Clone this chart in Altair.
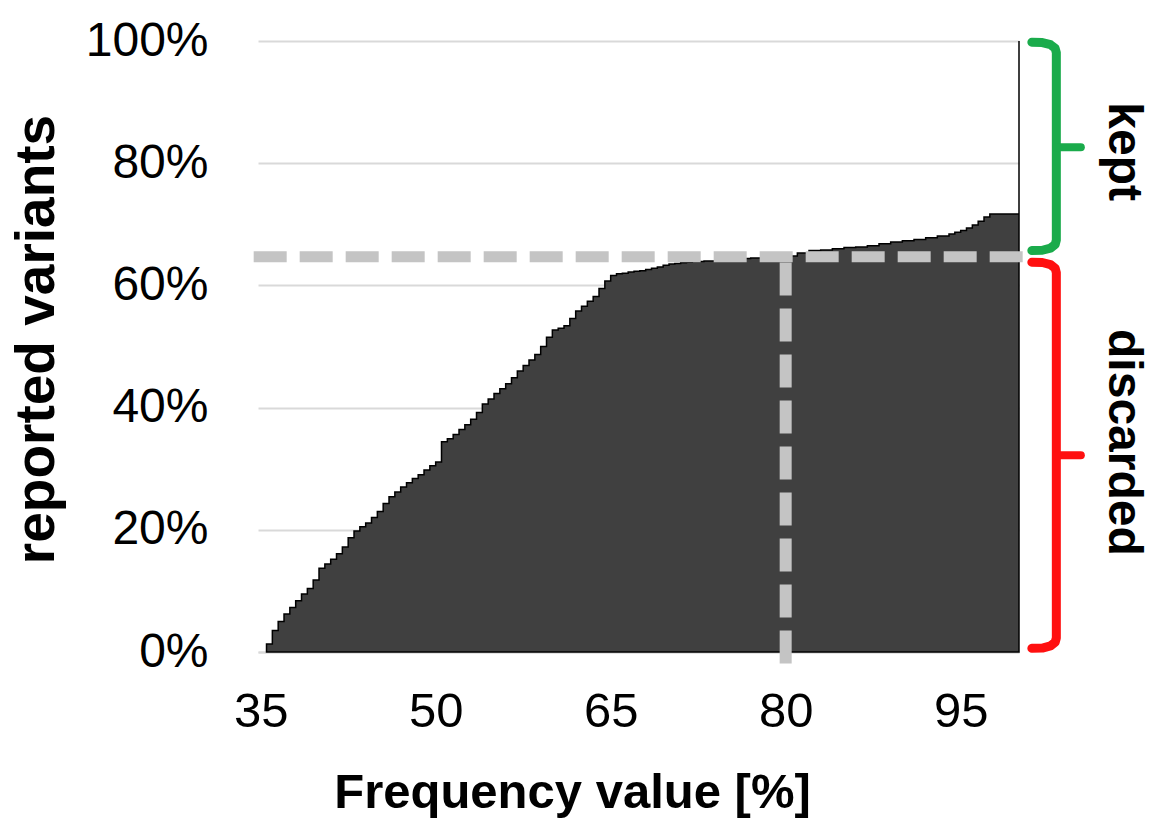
import altair as alt
import pandas as pd

# ---- data ----
freq = [35.5, 36.0, 36.5, 37.0, 37.5, 38.0, 38.5, 39.0, 39.5, 40.0,
        40.5, 41.0, 41.5, 42.0, 42.5, 43.0, 43.5, 44.0, 44.5, 45.0,
        45.5, 46.0, 46.5, 47.0, 47.5, 48.0, 48.5, 49.0, 49.5, 50.0,
        50.5, 51.0, 51.5, 52.0, 52.5, 53.0, 53.5, 54.0, 54.5, 55.0,
        55.5, 56.0, 56.5, 57.0, 57.5, 58.0, 58.5, 59.0, 59.5, 60.0,
        60.5, 61.0, 61.5, 62.0, 62.5, 63.0, 63.5, 64.0, 64.5, 65.0,
        65.5, 66.0, 66.5, 67.0, 67.5, 68.0, 68.5, 69.0, 69.5, 70.0,
        70.5, 71.0, 71.5, 72.0, 73.0, 74.0, 75.0, 76.0, 77.0, 78.0,
        79.0, 80.0, 81.0, 82.0, 83.0, 84.0, 85.0, 86.0, 87.0, 88.0,
        89.0, 90.0, 91.0, 92.0, 93.0, 94.0, 94.5, 95.0, 95.5, 96.0,
        96.5, 97.0, 97.5, 98.0, 100.0]
share = [1.3, 3.5, 5.0, 6.2, 7.3, 8.4, 9.5, 10.4, 11.8, 13.7,
         14.4, 15.2, 16.1, 17.2, 18.7, 19.8, 20.5, 21.1, 22.0, 23.0,
         24.3, 25.4, 26.2, 27.0, 27.7, 28.4, 29.0, 29.8, 30.5, 31.1,
         34.4, 34.9, 35.6, 36.4, 37.2, 38.1, 39.2, 40.6, 41.4, 42.3,
         43.1, 43.9, 44.9, 46.0, 46.9, 47.8, 48.7, 50.0, 51.5, 52.7,
         53.0, 53.4, 54.6, 55.8, 56.6, 57.4, 58.2, 59.5, 60.7, 61.6,
         61.9, 62.0, 62.2, 62.3, 62.4, 62.6, 62.8, 63.0, 63.3, 63.5,
         63.6, 63.7, 63.8, 63.9, 64.0, 64.1, 64.2, 64.4, 64.5, 64.6,
         64.7, 64.8, 65.3, 65.7, 65.8, 66.0, 66.2, 66.3, 66.5, 66.8,
         67.1, 67.3, 67.5, 67.8, 68.1, 68.4, 68.7, 69.0, 69.4, 69.9,
         70.5, 71.2, 71.7, 71.7, 100.0]

x_ticks = [35, 50, 65, 80, 95]
y_ticks = [0, 20, 40, 60, 80, 100]

threshold_freq = 80
threshold_share = 64.7

group_names = ["kept", "discarded"]
group_colors = ["#1aab4b", "#ff1010"]

# bracket outlines (data coordinates, annotation)
kept_bx = [101.1, 102.0, 102.7, 103.1, 103.2, 103.2, 103.1, 102.7, 102.0, 101.1]
kept_by = [99.8, 99.75, 99.4, 98.8, 98.1, 67.4, 66.7, 66.1, 65.75, 65.7]
disc_bx = [101.1, 102.0, 102.7, 103.1, 103.2, 103.2, 103.1, 102.7, 102.0, 101.1]
disc_by = [63.8, 63.75, 63.4, 62.8, 62.1, 2.3, 1.6, 1.0, 0.65, 0.6]
stub_y = [82.6, 32.2]
label_y = [81.9, 34.3]

FONT = "Liberation Sans"

area_df = pd.DataFrame({"freq": freq, "share": share})

x_scale = alt.Scale(domain=[34.77, 100], nice=False, zero=False)
y_scale = alt.Scale(domain=[0, 100], nice=False, zero=True)

x_axis = alt.Axis(
    values=x_ticks, title="Frequency value [%]", grid=False, ticks=False,
    domain=True, domainColor="#d9d9d9", domainWidth=2,
    labelFont=FONT, labelFontSize=49, labelColor="#000000", labelPadding=35,
    titleFont=FONT, titleFontSize=49, titleFontWeight="bold", titleColor="#000000",
    titleX=314, titleY=155, titleAlign="center", titleBaseline="alphabetic",
)
y_axis = alt.Axis(
    values=y_ticks, labelExpr="datum.value + '%'", title="reported variants",
    grid=True, gridColor="#d9d9d9", gridWidth=2, ticks=False, domain=False,
    labelFont=FONT, labelFontSize=48, labelColor="#000000", labelPadding=50,
    titleFont=FONT, titleFontSize=55, titleFontWeight="bold", titleColor="#000000",
    titleX=-222, titleY=298, titleAngle=-90, titleAlign="center", titleBaseline="middle",
)


def X(field):
    return alt.X(field, scale=x_scale, axis=x_axis)


def Y(field):
    return alt.Y(field, scale=y_scale, axis=y_axis)


area = alt.Chart(area_df).mark_area(
    interpolate="step-after", color="#404040", stroke="#000000", strokeWidth=1.5
).encode(x=X("freq:Q"), y=Y("share:Q"))

h_df = pd.DataFrame({"freq": [34.4], "x2": [100.6], "share": [threshold_share]})
h_rule = alt.Chart(h_df).mark_rule(
    color="#c4c4c4", strokeWidth=11, strokeDash=[33, 13]
).encode(x=X("freq:Q"), x2="x2:Q", y=Y("share:Q"))

v_df = pd.DataFrame({"freq": [threshold_freq], "share": [-1.9], "y2": [threshold_share]})
v_rule = alt.Chart(v_df).mark_rule(
    color="#c4c4c4", strokeWidth=12, strokeDash=[33, 13]
).encode(x=X("freq:Q"), y=Y("share:Q"), y2="y2:Q")

br_rows = []
for i, (bx, by) in enumerate(zip(kept_bx, kept_by)):
    br_rows.append({"freq": bx, "share": by, "i": i, "g": "kept"})
for i, (bx, by) in enumerate(zip(disc_bx, disc_by)):
    br_rows.append({"freq": bx, "share": by, "i": i, "g": "discarded"})
br_df = pd.DataFrame(br_rows)

color_scale = alt.Scale(domain=group_names, range=group_colors)

brackets = alt.Chart(br_df).mark_line(
    strokeWidth=9, strokeCap="round", strokeJoin="round"
).encode(
    x=X("freq:Q"), y=Y("share:Q"), order="i:Q",
    color=alt.Color("g:N", scale=color_scale, legend=None),
)

stub_df = pd.DataFrame({"g": group_names, "freq": [103.2, 103.2], "x2": [105.3, 105.3], "share": stub_y})
stubs = alt.Chart(stub_df).mark_rule(strokeWidth=8, strokeCap="round").encode(
    x=X("freq:Q"), x2="x2:Q", y=Y("share:Q"),
    color=alt.Color("g:N", scale=color_scale, legend=None),
)

lab_df = pd.DataFrame({"g": group_names, "freq": [108.9, 108.9], "share": label_y})
labels = alt.Chart(lab_df).mark_text(
    angle=90, align="center", baseline="middle", font=FONT, fontSize=48,
    fontWeight="bold", color="#000000"
).encode(x=X("freq:Q"), y=Y("share:Q"), text="g:N")

chart = alt.layer(area, h_rule, v_rule, brackets, stubs, labels).properties(
    width=761, height=611,
    autosize=alt.AutoSizeParams(type="none"),
    padding={"left": 250, "top": 33, "right": 131, "bottom": 172},
    background="#ffffff",
).configure_view(stroke=None)

chart.save("out.html", embed_options={"renderer": "svg", "actions": False})
